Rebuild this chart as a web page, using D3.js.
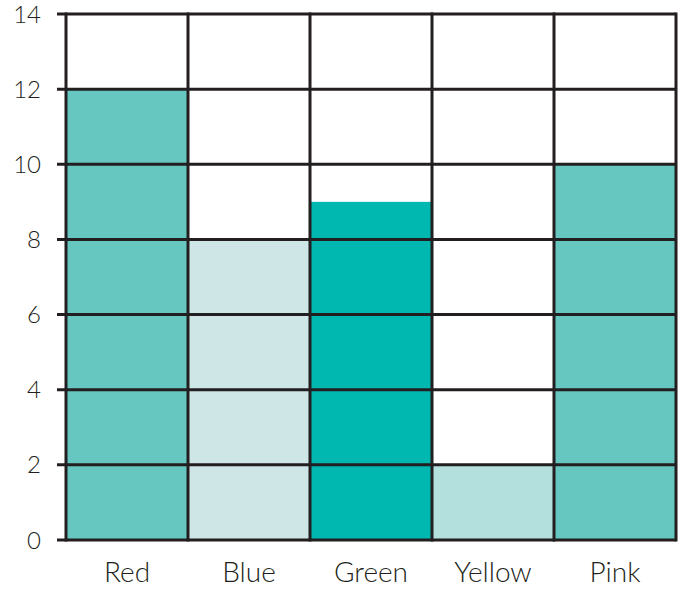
<!DOCTYPE html>
<html>
<head>
<meta charset="utf-8">
<script src="https://cdn.jsdelivr.net/npm/d3@7"></script>
<style>
  body { margin: 0; background: #fff; }
  svg text { font-family: Lato, "Open Sans", sans-serif; fill: #231f20; font-weight: 300; }
</style>
</head>
<body>
<svg id="chart" width="680" height="590"></svg>
<script>
const categories = ["Red", "Blue", "Green", "Yellow", "Pink"];
const values = [12, 8, 9, 2, 10];
const colours = ["#66c7c0", "#cfe6e6", "#00b8b0", "#b3e0dd", "#66c7c0"];
const yTicks = [0, 2, 4, 6, 8, 10, 12, 14];

const margin = {top: 14, right: 4, bottom: 50, left: 66};
const width = 680, height = 590;
const ink = "#231f20";

const svg = d3.select("#chart");

const x = d3.scaleBand()
    .domain(categories)
    .range([margin.left, width - margin.right])
    .padding(0);

const y = d3.scaleLinear()
    .domain([0, 14])
    .range([height - margin.bottom, margin.top]);

// bars
svg.selectAll(".bar")
  .data(values)
  .enter().append("rect")
    .attr("class", "bar")
    .attr("x", function(d, i) { return x(categories[i]); })
    .attr("y", function(d) { return y(d); })
    .attr("width", x.bandwidth())
    .attr("height", function(d) { return y(0) - y(d); })
    .attr("fill", function(d, i) { return colours[i]; });

// horizontal grid + ticks
svg.selectAll(".hgrid")
  .data(yTicks)
  .enter().append("line")
    .attr("class", "hgrid")
    .attr("x1", margin.left - 9)
    .attr("x2", width - margin.right)
    .attr("y1", function(d) { return y(d); })
    .attr("y2", function(d) { return y(d); })
    .attr("stroke", ink)
    .attr("stroke-width", 3);

// vertical grid at band edges
let edges = categories.map(function(c) { return x(c); });
edges.push(width - margin.right);
svg.selectAll(".vgrid")
  .data(edges)
  .enter().append("line")
    .attr("class", "vgrid")
    .attr("x1", function(d) { return d; })
    .attr("x2", function(d) { return d; })
    .attr("y1", y(14) - 1.5)
    .attr("y2", y(0) + 1.5)
    .attr("stroke", ink)
    .attr("stroke-width", 3);

// y tick labels
svg.selectAll(".ylab")
  .data(yTicks)
  .enter().append("text")
    .attr("class", "ylab")
    .attr("x", 41)
    .attr("y", function(d) { return y(d); })
    .attr("dy", "0.36em")
    .attr("text-anchor", "end")
    .attr("font-size", 24)
    .text(function(d) { return d; });

// category labels
svg.selectAll(".xlab")
  .data(categories)
  .enter().append("text")
    .attr("class", "xlab")
    .attr("x", function(d) { return x(d) + x.bandwidth() / 2; })
    .attr("y", 582)
    .attr("text-anchor", "middle")
    .attr("font-size", 28)
    .text(function(d) { return d; });
</script>
</body>
</html>
